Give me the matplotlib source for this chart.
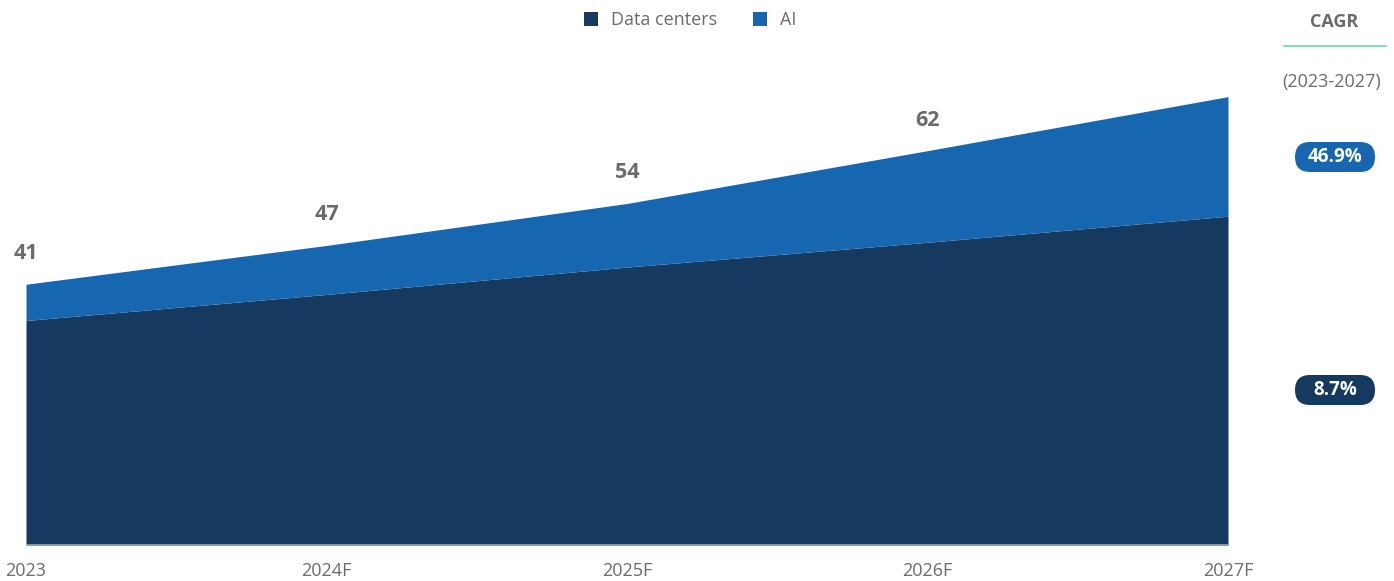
import matplotlib.pyplot as plt
from matplotlib.patches import FancyBboxPatch
import matplotlib.lines as mlines
import numpy as np

# data
years = ["2023", "2024F", "2025F", "2026F", "2027F"]
data_centers = [35.3, 39.4, 43.7, 47.6, 51.7]
ai = [5.7, 7.7, 10.0, 14.4, 18.8]
total_labels = [41, 47, 54, 62]
cagr_labels = ["46.9%", "8.7%"]

navy = "#163a5f"
blue = "#1767b0"
grey = "#6b6b6b"

plt.rcParams['font.family'] = ['Open Sans', 'DejaVu Sans']

W, H = 1394, 581
fig = plt.figure(figsize=(W / 100, H / 100), dpi=100)
ax = fig.add_axes([26 / W, 1 - 545 / H, (1228 - 26) / W, (545 - 68) / H])

x = np.arange(len(years))
dc = np.array(data_centers)
tot = dc + np.array(ai)

ax.fill_between(x, 0, dc, color=navy, linewidth=0, label="Data centers")
ax.fill_between(x, dc, tot, color=blue, linewidth=0, label="AI")
ax.axhline(0, color="#9aa8b8", linewidth=1.2)

ax.set_xlim(0, len(years) - 1)
ax.set_ylim(0, 75)
ax.set_xticks(x)
ax.set_xticklabels(years, fontsize=13, color=grey)
ax.tick_params(axis='x', length=0, pad=12)
ax.set_yticks([])
for s in ax.spines.values():
    s.set_visible(False)

# total labels above the stack
for i, v in enumerate(total_labels):
    ax.annotate(str(v), (x[i], tot[i]), xytext=(0, 22), textcoords="offset points",
                ha="center", va="center", fontsize=15.5, fontweight="bold", color=grey)

# legend
leg = fig.legend(loc="center", bbox_to_anchor=(690 / W, 1 - 20 / H), ncol=2, frameon=False,
                 fontsize=13, handlelength=0.8, handleheight=0.8, columnspacing=2.0,
                 handletextpad=0.7)
for t in leg.get_texts():
    t.set_color(grey)

# CAGR column on the right
fig.text(1334 / W, 1 - 22 / H, "CAGR", ha="center", va="center", fontsize=13,
         fontweight="bold", color=grey)
fig.add_artist(mlines.Line2D([1284 / W, 1386 / W], [1 - 46 / H, 1 - 46 / H],
                             color="#6fd4b0", linewidth=1.2))
fig.text(1332 / W, 1 - 82 / H, "(2023-2027)", ha="center", va="center", fontsize=13,
         color=grey)

for label, color, yc in [(cagr_labels[0], blue, 157), (cagr_labels[1], navy, 390)]:
    pw, ph = 80, 30
    # pill drawn in inches (100 px per inch) so corners stay round
    box = FancyBboxPatch(((1335 - pw / 2) / 100, (H - yc - ph / 2) / 100), pw / 100, ph / 100,
                         boxstyle="round,pad=0,rounding_size=0.15",
                         transform=fig.dpi_scale_trans, facecolor=color, edgecolor="none")
    fig.add_artist(box)
    fig.text(1335 / W, 1 - yc / H, label, ha="center", va="center", fontsize=13.5,
             fontweight="bold", color="white")

plt.savefig("out.png", dpi=100)
